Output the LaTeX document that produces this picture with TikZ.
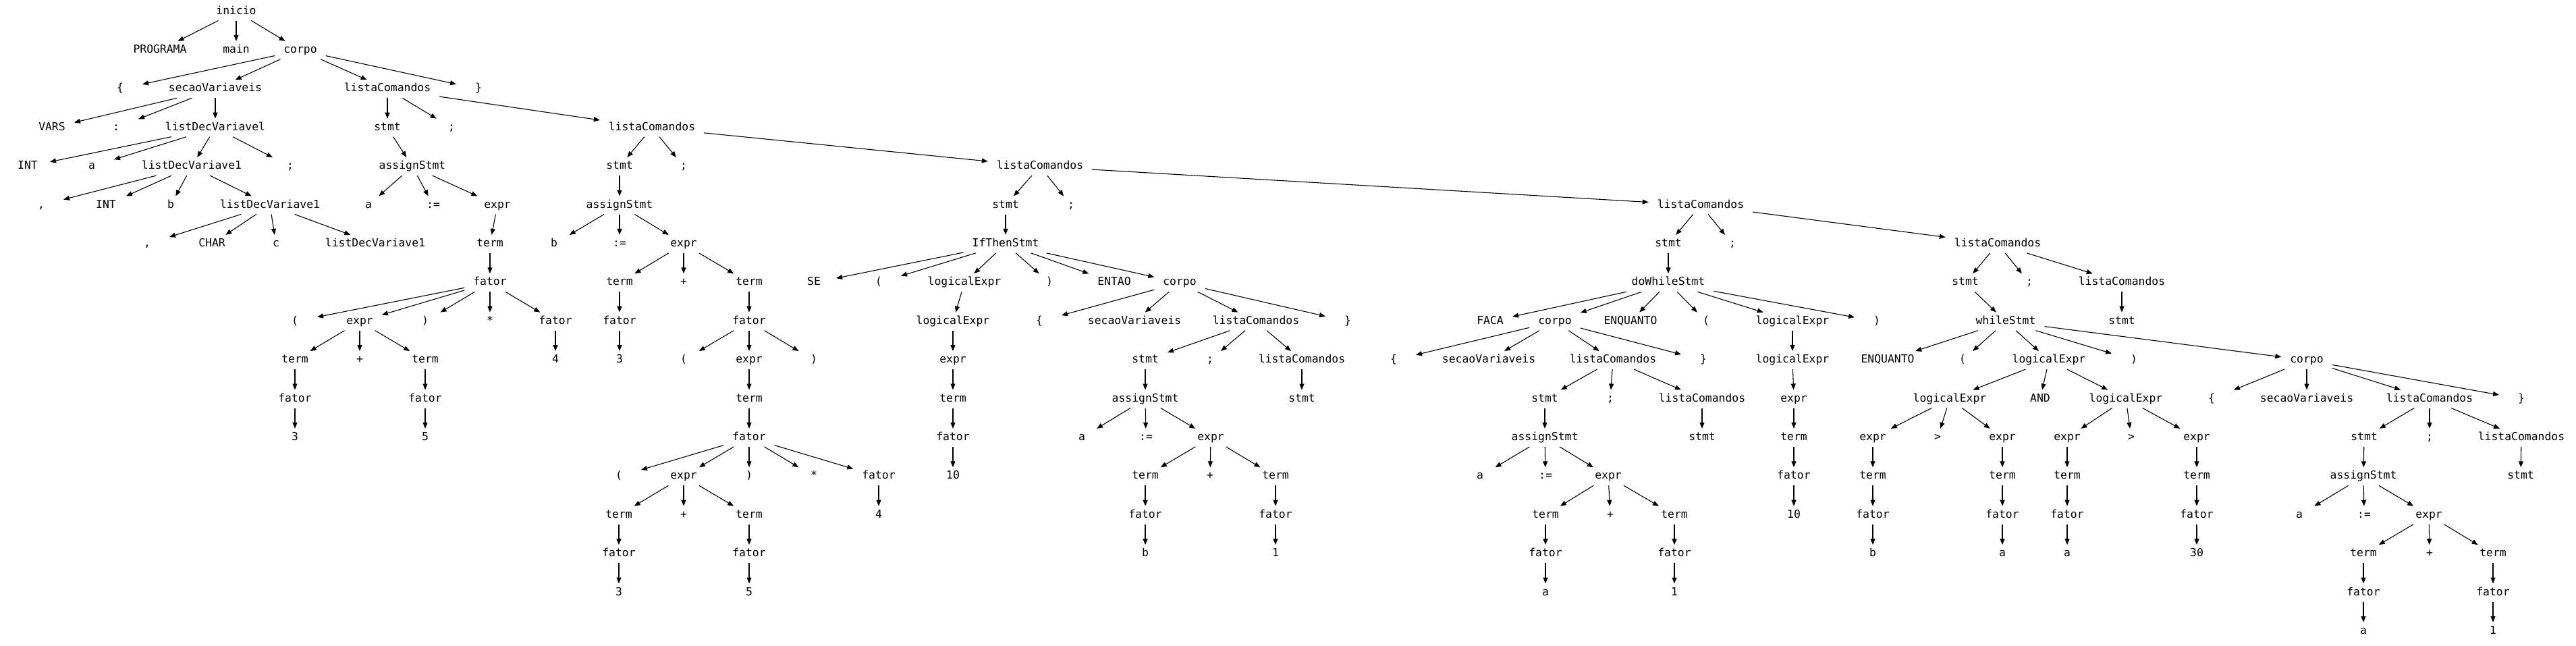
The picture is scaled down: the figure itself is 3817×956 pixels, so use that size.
\documentclass[tikz,border=0pt]{standalone}
\usepackage{fontspec}
\setmonofont{DejaVu Sans Mono}
\usetikzlibrary{arrows.meta}
\tikzset{
 lbl/.style={rectangle, minimum width=66pt, minimum height=27pt, inner xsep=13pt, inner ysep=0pt, outer sep=0pt,
   font=\ttfamily\fontsize{16.4}{20}\selectfont, text height=12.3pt, text depth=4.1pt},
 edg/.style={-{Triangle[length=9pt,width=7pt]}, line width=1.1pt}
}
\newcommand\mknode[4]{\node[lbl] (#1) at (#2,{17+57.4*#3}) {#4};}
\newcommand\mkedges[2]{\foreach \kid in {#2}{\draw[edg] (#1) -- (\kid);}}
\begin{document}
\begin{tikzpicture}[x=1pt,y=-1pt]
\useasboundingbox (0,0) rectangle (3817,956);
% left part
\mknode{n0}{350}{0}{inicio}
\mknode{n1}{237}{1}{PROGRAMA}
\mknode{n2}{350}{1}{main}
\mknode{n3}{445}{1}{corpo}
\mknode{n4}{178}{2}{\{}
\mknode{n5}{319}{2}{secaoVariaveis}
\mknode{n6}{574}{2}{listaComandos}
\mknode{n7}{709}{2}{\}}
\mknode{n8}{77}{3}{VARS}
\mknode{n9}{172}{3}{:}
\mknode{n10}{319}{3}{listDecVariavel}
\mknode{n11}{41}{4}{INT}
\mknode{n12}{136}{4}{a}
\mknode{n13}{284}{4}{listDecVariave1}
\mknode{n14}{430}{4}{;}
\mknode{n15}{61}{5}{,}
\mknode{n16}{157}{5}{INT}
\mknode{n17}{253}{5}{b}
\mknode{n18}{400}{5}{listDecVariave1}
\mknode{n19}{218}{6}{,}
\mknode{n20}{314}{6}{CHAR}
\mknode{n21}{409}{6}{c}
\mknode{n22}{556}{6}{listDecVariave1}
\mknode{n23}{574}{3}{stmt}
\mknode{n24}{669}{3}{;}
\mknode{n25}{966}{3}{listaComandos}
\mknode{n26}{611}{4}{assignStmt}
\mknode{n27}{546}{5}{a}
\mknode{n28}{642}{5}{:=}
\mknode{n29}{737}{5}{expr}
\mknode{n30}{726}{6}{term}
\mknode{n31}{726}{7}{fator}
\mknode{n32}{437}{8}{(}
\mknode{n33}{533}{8}{expr}
\mknode{n34}{630}{8}{)}
\mknode{n35}{726}{8}{*}
\mknode{n36}{823}{8}{fator}
\mknode{n37}{437}{9}{term}
\mknode{n38}{533}{9}{+}
\mknode{n39}{630}{9}{term}
\mknode{n40}{437}{10}{fator}
\mknode{n41}{437}{11}{3}
\mknode{n42}{630}{10}{fator}
\mknode{n43}{630}{11}{5}
\mknode{n44}{823}{9}{4}
% second command list
\mknode{n45}{918}{4}{stmt}
\mknode{n46}{1013}{4}{;}
\mknode{n47}{1541}{4}{listaComandos}
\mknode{n48}{918}{5}{assignStmt}
\mknode{n49}{821}{6}{b}
\mknode{n50}{918}{6}{:=}
\mknode{n51}{1013}{6}{expr}
\mknode{n52}{918}{7}{term}
\mknode{n53}{1013}{7}{+}
\mknode{n54}{1110}{7}{term}
\mknode{n55}{918}{8}{fator}
\mknode{n56}{918}{9}{3}
\mknode{n57}{1110}{8}{fator}
\mknode{n58}{1013}{9}{(}
\mknode{n59}{1110}{9}{expr}
\mknode{n60}{1206}{9}{)}
\mknode{n61}{1110}{10}{term}
\mknode{n62}{1110}{11}{fator}
\mknode{n63}{917}{12}{(}
\mknode{n64}{1013}{12}{expr}
\mknode{n65}{1110}{12}{)}
\mknode{n66}{1206}{12}{*}
\mknode{n67}{1302}{12}{fator}
\mknode{n68}{917}{13}{term}
\mknode{n69}{1013}{13}{+}
\mknode{n70}{1110}{13}{term}
\mknode{n71}{917}{14}{fator}
\mknode{n72}{917}{15}{3}
\mknode{n73}{1110}{14}{fator}
\mknode{n74}{1110}{15}{5}
\mknode{n75}{1302}{13}{4}
% if-then
\mknode{n76}{1490}{5}{stmt}
\mknode{n77}{1587}{5}{;}
\mknode{n78}{2520}{5}{listaComandos}
\mknode{n79}{1490}{6}{IfThenStmt}
\mknode{n80}{1206}{7}{SE}
\mknode{n81}{1302}{7}{(}
\mknode{n82}{1429}{7}{logicalExpr}
\mknode{n83}{1555}{7}{)}
\mknode{n84}{1651}{7}{ENTAO}
\mknode{n85}{1748}{7}{corpo}
\mknode{n86}{1412}{8}{logicalExpr}
\mknode{n87}{1412}{9}{expr}
\mknode{n88}{1412}{10}{term}
\mknode{n89}{1412}{11}{fator}
\mknode{n90}{1412}{12}{10}
\mknode{n91}{1540}{8}{\{}
\mknode{n92}{1681}{8}{secaoVariaveis}
\mknode{n93}{1861}{8}{listaComandos}
\mknode{n94}{1997}{8}{\}}
\mknode{n95}{1697}{9}{stmt}
\mknode{n96}{1793}{9}{;}
\mknode{n97}{1929}{9}{listaComandos}
\mknode{n98}{1697}{10}{assignStmt}
\mknode{n99}{1603}{11}{a}
\mknode{n100}{1698}{11}{:=}
\mknode{n101}{1794}{11}{expr}
\mknode{n102}{1697}{12}{term}
\mknode{n103}{1793}{12}{+}
\mknode{n104}{1890}{12}{term}
\mknode{n105}{1697}{13}{fator}
\mknode{n106}{1697}{14}{b}
\mknode{n107}{1890}{13}{fator}
\mknode{n108}{1890}{14}{1}
\mknode{n109}{1929}{10}{stmt}
% do-while
\mknode{n110}{2472}{6}{stmt}
\mknode{n111}{2567}{6}{;}
\mknode{n112}{2960}{6}{listaComandos}
\mknode{n113}{2472}{7}{doWhileStmt}
\mknode{n114}{2208}{8}{FACA}
\mknode{n115}{2304}{8}{corpo}
\mknode{n116}{2416}{8}{ENQUANTO}
\mknode{n117}{2528}{8}{(}
\mknode{n118}{2656}{8}{logicalExpr}
\mknode{n119}{2781}{8}{)}
\mknode{n120}{2065}{9}{\{}
\mknode{n121}{2206}{9}{secaoVariaveis}
\mknode{n122}{2390}{9}{listaComandos}
\mknode{n123}{2524}{9}{\}}
\mknode{n124}{2289}{10}{stmt}
\mknode{n125}{2386}{10}{;}
\mknode{n126}{2522}{10}{listaComandos}
\mknode{n127}{2289}{11}{assignStmt}
\mknode{n128}{2193}{12}{a}
\mknode{n129}{2290}{12}{:=}
\mknode{n130}{2383}{12}{expr}
\mknode{n131}{2290}{13}{term}
\mknode{n132}{2386}{13}{+}
\mknode{n133}{2481}{13}{term}
\mknode{n134}{2290}{14}{fator}
\mknode{n135}{2290}{15}{a}
\mknode{n136}{2481}{14}{fator}
\mknode{n137}{2481}{15}{1}
\mknode{n138}{2522}{11}{stmt}
\mknode{n139}{2656}{9}{logicalExpr}
\mknode{n140}{2658}{10}{expr}
\mknode{n141}{2658}{11}{term}
\mknode{n142}{2658}{12}{fator}
\mknode{n143}{2658}{13}{10}
% while
\mknode{n144}{2912}{7}{stmt}
\mknode{n145}{3007}{7}{;}
\mknode{n146}{3144}{7}{listaComandos}
\mknode{n147}{2972}{8}{whileStmt}
\mknode{n148}{3144}{8}{stmt}
\mknode{n149}{2797}{9}{ENQUANTO}
\mknode{n150}{2908}{9}{(}
\mknode{n151}{3036}{9}{logicalExpr}
\mknode{n152}{3162}{9}{)}
\mknode{n153}{3418}{9}{corpo}
\mknode{n154}{2889}{10}{logicalExpr}
\mknode{n155}{3023}{10}{AND}
\mknode{n156}{3150}{10}{logicalExpr}
\mknode{n157}{2775}{11}{expr}
\mknode{n158}{2871}{11}{>}
\mknode{n159}{2967}{11}{expr}
\mknode{n160}{3063}{11}{expr}
\mknode{n161}{3158}{11}{>}
\mknode{n162}{3255}{11}{expr}
\mknode{n163}{2775}{12}{term}
\mknode{n164}{2775}{13}{fator}
\mknode{n165}{2775}{14}{b}
\mknode{n166}{2967}{12}{term}
\mknode{n167}{2967}{13}{fator}
\mknode{n168}{2967}{14}{a}
\mknode{n169}{3063}{12}{term}
\mknode{n170}{3063}{13}{fator}
\mknode{n171}{3063}{14}{a}
\mknode{n172}{3255}{12}{term}
\mknode{n173}{3255}{13}{fator}
\mknode{n174}{3255}{14}{30}
\mknode{n175}{3277}{10}{\{}
\mknode{n176}{3418}{10}{secaoVariaveis}
\mknode{n177}{3600}{10}{listaComandos}
\mknode{n178}{3736}{10}{\}}
\mknode{n179}{3503}{11}{stmt}
\mknode{n180}{3600}{11}{;}
\mknode{n181}{3736}{11}{listaComandos}
\mknode{n182}{3502}{12}{assignStmt}
\mknode{n183}{3735}{12}{stmt}
\mknode{n184}{3407}{13}{a}
\mknode{n185}{3503}{13}{:=}
\mknode{n186}{3599}{13}{expr}
\mknode{n187}{3502}{14}{term}
\mknode{n188}{3600}{14}{+}
\mknode{n189}{3694}{14}{term}
\mknode{n190}{3502}{15}{fator}
\mknode{n191}{3502}{16}{a}
\mknode{n192}{3694}{15}{fator}
\mknode{n193}{3694}{16}{1}
% edges
\mkedges{n0}{n1,n2,n3}
\mkedges{n3}{n4,n5,n6,n7}
\mkedges{n5}{n8,n9,n10}
\mkedges{n10}{n11,n12,n13,n14}
\mkedges{n13}{n15,n16,n17,n18}
\mkedges{n18}{n19,n20,n21,n22}
\mkedges{n6}{n23,n24,n25}
\mkedges{n23}{n26}
\mkedges{n26}{n27,n28,n29}
\mkedges{n29}{n30}
\mkedges{n30}{n31}
\mkedges{n31}{n32,n33,n34,n35,n36}
\mkedges{n33}{n37,n38,n39}
\mkedges{n37}{n40}
\mkedges{n40}{n41}
\mkedges{n39}{n42}
\mkedges{n42}{n43}
\mkedges{n36}{n44}
\mkedges{n25}{n45,n46,n47}
\mkedges{n45}{n48}
\mkedges{n48}{n49,n50,n51}
\mkedges{n51}{n52,n53,n54}
\mkedges{n52}{n55}
\mkedges{n55}{n56}
\mkedges{n54}{n57}
\mkedges{n57}{n58,n59,n60}
\mkedges{n59}{n61}
\mkedges{n61}{n62}
\mkedges{n62}{n63,n64,n65,n66,n67}
\mkedges{n64}{n68,n69,n70}
\mkedges{n68}{n71}
\mkedges{n71}{n72}
\mkedges{n70}{n73}
\mkedges{n73}{n74}
\mkedges{n67}{n75}
\mkedges{n47}{n76,n77,n78}
\mkedges{n76}{n79}
\mkedges{n79}{n80,n81,n82,n83,n84,n85}
\mkedges{n82}{n86}
\mkedges{n86}{n87}
\mkedges{n87}{n88}
\mkedges{n88}{n89}
\mkedges{n89}{n90}
\mkedges{n85}{n91,n92,n93,n94}
\mkedges{n93}{n95,n96,n97}
\mkedges{n95}{n98}
\mkedges{n98}{n99,n100,n101}
\mkedges{n101}{n102,n103,n104}
\mkedges{n102}{n105}
\mkedges{n105}{n106}
\mkedges{n104}{n107}
\mkedges{n107}{n108}
\mkedges{n97}{n109}
\mkedges{n78}{n110,n111,n112}
\mkedges{n110}{n113}
\mkedges{n113}{n114,n115,n116,n117,n118,n119}
\mkedges{n115}{n120,n121,n122,n123}
\mkedges{n122}{n124,n125,n126}
\mkedges{n124}{n127}
\mkedges{n127}{n128,n129,n130}
\mkedges{n130}{n131,n132,n133}
\mkedges{n131}{n134}
\mkedges{n134}{n135}
\mkedges{n133}{n136}
\mkedges{n136}{n137}
\mkedges{n126}{n138}
\mkedges{n118}{n139}
\mkedges{n139}{n140}
\mkedges{n140}{n141}
\mkedges{n141}{n142}
\mkedges{n142}{n143}
\mkedges{n112}{n144,n145,n146}
\mkedges{n144}{n147}
\mkedges{n146}{n148}
\mkedges{n147}{n149,n150,n151,n152,n153}
\mkedges{n151}{n154,n155,n156}
\mkedges{n154}{n157,n158,n159}
\mkedges{n156}{n160,n161,n162}
\mkedges{n157}{n163}
\mkedges{n163}{n164}
\mkedges{n164}{n165}
\mkedges{n159}{n166}
\mkedges{n166}{n167}
\mkedges{n167}{n168}
\mkedges{n160}{n169}
\mkedges{n169}{n170}
\mkedges{n170}{n171}
\mkedges{n162}{n172}
\mkedges{n172}{n173}
\mkedges{n173}{n174}
\mkedges{n153}{n175,n176,n177,n178}
\mkedges{n177}{n179,n180,n181}
\mkedges{n179}{n182}
\mkedges{n181}{n183}
\mkedges{n182}{n184,n185,n186}
\mkedges{n186}{n187,n188,n189}
\mkedges{n187}{n190}
\mkedges{n190}{n191}
\mkedges{n189}{n192}
\mkedges{n192}{n193}
\end{tikzpicture}
\end{document}
